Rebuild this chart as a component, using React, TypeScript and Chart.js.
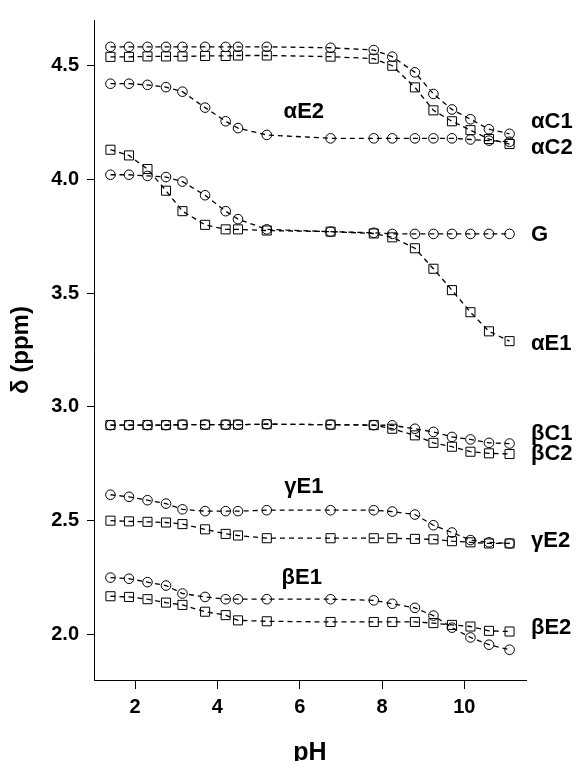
import React, { useEffect, useRef } from "react";
import { Chart, registerables } from "chart.js";

Chart.register(...registerables);

// pH values (x) shared by every series
const PH = [1.4, 1.85, 2.3, 2.75, 3.15, 3.7, 4.2, 4.5, 5.2, 6.75, 7.8, 8.25, 8.8, 9.25, 9.7, 10.15, 10.6, 11.1];

// chemical shifts (ppm)
const ALPHA_C1 = [4.582, 4.582, 4.582, 4.582, 4.582, 4.582, 4.582, 4.582, 4.582, 4.578, 4.568, 4.539, 4.47, 4.375, 4.307, 4.264, 4.22, 4.2];
const ALPHA_C2 = [4.538, 4.538, 4.54, 4.54, 4.54, 4.542, 4.542, 4.544, 4.544, 4.539, 4.53, 4.499, 4.404, 4.303, 4.255, 4.216, 4.177, 4.155];
const ALPHA_E2 = [4.42, 4.42, 4.415, 4.405, 4.385, 4.315, 4.255, 4.225, 4.195, 4.18, 4.18, 4.18, 4.18, 4.18, 4.18, 4.175, 4.17, 4.165];
const ALPHA_E1 = [4.13, 4.105, 4.045, 3.95, 3.86, 3.8, 3.78, 3.78, 3.775, 3.77, 3.762, 3.745, 3.697, 3.607, 3.513, 3.416, 3.332, 3.289];
const G_VALUES = [4.02, 4.02, 4.015, 4.01, 3.99, 3.93, 3.86, 3.825, 3.78, 3.77, 3.765, 3.76, 3.76, 3.76, 3.76, 3.76, 3.76, 3.76];
const BETA_C1 = [2.92, 2.92, 2.92, 2.92, 2.922, 2.922, 2.922, 2.922, 2.924, 2.922, 2.92, 2.919, 2.904, 2.89, 2.868, 2.857, 2.842, 2.839];
const BETA_C2 = [2.92, 2.92, 2.92, 2.92, 2.922, 2.922, 2.922, 2.922, 2.924, 2.922, 2.92, 2.904, 2.875, 2.842, 2.825, 2.803, 2.796, 2.793];
const GAMMA_E1 = [2.614, 2.605, 2.59, 2.575, 2.55, 2.542, 2.542, 2.542, 2.546, 2.546, 2.546, 2.54, 2.527, 2.48, 2.448, 2.415, 2.405, 2.4];
const GAMMA_E2 = [2.5, 2.497, 2.495, 2.492, 2.485, 2.462, 2.442, 2.435, 2.423, 2.423, 2.423, 2.423, 2.42, 2.418, 2.41, 2.405, 2.4, 2.4];
const BETA_E1 = [2.25, 2.245, 2.23, 2.215, 2.18, 2.165, 2.155, 2.155, 2.155, 2.155, 2.15, 2.135, 2.117, 2.083, 2.03, 1.987, 1.955, 1.933];
const BETA_E2 = [2.168, 2.165, 2.155, 2.14, 2.13, 2.1, 2.085, 2.062, 2.058, 2.055, 2.055, 2.055, 2.055, 2.05, 2.042, 2.035, 2.016, 2.013];

const SERIES = [
  { name: "αC1", values: ALPHA_C1, marker: "circle" },
  { name: "αC2", values: ALPHA_C2, marker: "rect" },
  { name: "αE2", values: ALPHA_E2, marker: "circle" },
  { name: "αE1", values: ALPHA_E1, marker: "rect" },
  { name: "G", values: G_VALUES, marker: "circle" },
  { name: "βC1", values: BETA_C1, marker: "circle" },
  { name: "βC2", values: BETA_C2, marker: "rect" },
  { name: "γE1", values: GAMMA_E1, marker: "circle" },
  { name: "γE2", values: GAMMA_E2, marker: "rect" },
  { name: "βE1", values: BETA_E1, marker: "circle" },
  { name: "βE2", values: BETA_E2, marker: "rect" },
];

const X_TICKS = [2, 4, 6, 8, 10];
const Y_TICKS = [2.0, 2.5, 3.0, 3.5, 4.0, 4.5];

// series labels: right-side ones sit at the right of the plot, inner ones at a pH value
const RIGHT_LABELS = [
  { text: "αC1", y: 4.25 },
  { text: "αC2", y: 4.14 },
  { text: "G", y: 3.757 },
  { text: "αE1", y: 3.278 },
  { text: "βC1", y: 2.88 },
  { text: "βC2", y: 2.793 },
  { text: "γE2", y: 2.409 },
  { text: "βE2", y: 2.03 },
];
const INNER_LABELS = [
  { text: "αE2", x: 6.1, y: 4.296 },
  { text: "γE1", x: 6.1, y: 2.648 },
  { text: "βE1", x: 6.05, y: 2.248 },
];

const FONT = "'Liberation Sans', Arial, Helvetica, sans-serif";

const labelPlugin = {
  id: "seriesLabels",
  afterDatasetsDraw(chart: any) {
    const { ctx, chartArea, scales } = chart;
    ctx.save();
    ctx.fillStyle = "#000";
    ctx.font = `bold 22px ${FONT}`;
    ctx.textBaseline = "middle";
    ctx.textAlign = "left";
    RIGHT_LABELS.forEach((l) => {
      ctx.fillText(l.text, chartArea.right + 5, scales.y.getPixelForValue(l.y));
    });
    ctx.textAlign = "center";
    INNER_LABELS.forEach((l) => {
      ctx.fillText(l.text, scales.x.getPixelForValue(l.x), scales.y.getPixelForValue(l.y));
    });
    ctx.restore();
  },
};

export default function App() {
  const canvasRef = useRef<HTMLCanvasElement | null>(null);

  useEffect(() => {
    if (!canvasRef.current) return;
    const datasets = SERIES.map((s) => ({
      label: s.name,
      data: PH.map((x, i) => ({ x, y: s.values[i] })),
      showLine: true,
      borderColor: "#000",
      borderWidth: 1.3,
      borderDash: [5, 4],
      tension: 0,
      pointStyle: s.marker,
      pointRadius: s.marker === "rect" ? 6.4 : 4.8,
      pointBorderWidth: 1,
      pointBorderColor: "#000",
      pointBackgroundColor: "rgba(0,0,0,0)",
      clip: false as any,
    }));

    const chart = new Chart(canvasRef.current, {
      type: "scatter",
      data: { datasets },
      plugins: [labelPlugin],
      options: {
        animation: false,
        responsive: false,
        maintainAspectRatio: false,
        layout: { padding: { top: 12, right: 51, left: 0, bottom: 0 } },
        plugins: { legend: { display: false }, tooltip: { enabled: false } },
        scales: {
          x: {
            type: "linear",
            min: 1.0,
            max: 11.5,
            afterBuildTicks: (scale: any) => {
              scale.ticks = X_TICKS.map((v) => ({ value: v }));
            },
            afterFit: (scale: any) => {
              scale.height = 81;
            },
            ticks: {
              color: "#000",
              font: { family: FONT, size: 20, weight: "bold" },
              padding: 6,
              maxRotation: 0,
              callback: (v: any) => String(v),
            },
            grid: { drawOnChartArea: false, drawTicks: true, tickLength: 9, color: "#000", lineWidth: 1 },
            border: { display: true, color: "#000", width: 1 },
            title: {
              display: true,
              text: "pH",
              color: "#000",
              font: { family: FONT, size: 25, weight: "bold", lineHeight: 0.64 },
              padding: { top: 0, bottom: 0 },
            },
          },
          y: {
            type: "linear",
            min: 1.8,
            max: 4.7,
            afterBuildTicks: (scale: any) => {
              scale.ticks = Y_TICKS.map((v) => ({ value: v }));
            },
            afterFit: (scale: any) => {
              scale.width = 94;
            },
            ticks: {
              color: "#000",
              font: { family: FONT, size: 20, weight: "bold" },
              padding: 8,
              callback: (v: any) => Number(v).toFixed(1),
            },
            grid: { drawOnChartArea: false, drawTicks: true, tickLength: 7, color: "#000", lineWidth: 1 },
            border: { display: true, color: "#000", width: 1 },
            title: {
              display: true,
              text: "δ (ppm)",
              color: "#000",
              font: { family: FONT, size: 24, weight: "bold", lineHeight: 1.2 },
              padding: { top: 7, bottom: 0 },
            },
          },
        },
      },
    });
    return () => chart.destroy();
  }, []);

  return (
    <div style={{ position: "fixed", left: 0, top: 0, width: 577, height: 761, background: "#fff" }}>
      <canvas ref={canvasRef} width={577} height={761} style={{ width: 577, height: 761, display: "block" }} />
    </div>
  );
}
